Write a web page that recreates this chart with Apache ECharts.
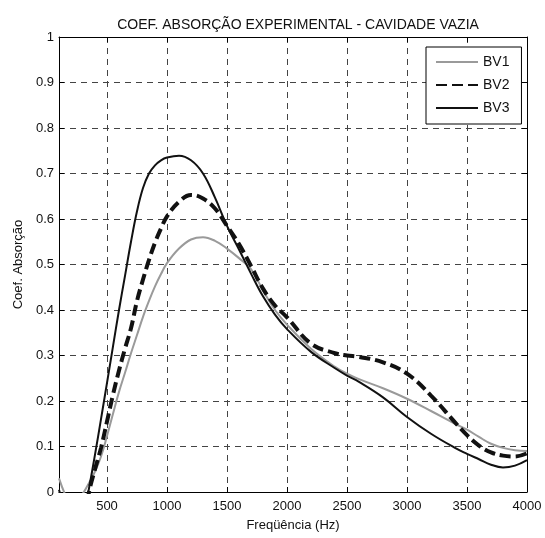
<!DOCTYPE html>
<html><head><meta charset="utf-8">
<script src="https://cdn.jsdelivr.net/npm/echarts@6/dist/echarts.min.js"></script>
<style>html,body{margin:0;padding:0;background:#fff}#c{width:545px;height:538px}</style>
</head><body><div id="c"></div>
<script>
const titleText = 'COEF. ABSORÇÃO EXPERIMENTAL - CAVIDADE VAZIA';
const xName = 'Freqüência (Hz)';
const yName = 'Coef. Absorção';
const seriesNames = ['BV1', 'BV2', 'BV3'];
const freqs = [100,150,200,250,300,350,400,450,500,550,600,650,700,750,800,850,900,950,1000,1100,1200,1300,1400,1500,1600,1700,1800,1900,2000,2200,2400,2500,2600,2800,3000,3200,3400,3500,3600,3700,3800,3900,4000];
const bv1 = [0.03,-0.005,-0.03,-0.02,-0.003,0.02,0.045,0.078,0.123,0.172,0.22,0.262,0.305,0.345,0.385,0.42,0.452,0.479,0.503,0.535,0.555,0.56,0.552,0.535,0.514,0.49,0.443,0.4,0.368,0.315,0.275,0.26,0.248,0.228,0.205,0.178,0.15,0.137,0.121,0.106,0.097,0.092,0.09];
const bv2 = [-0.03,-0.08,-0.12,-0.12,-0.07,0.0,0.05,0.097,0.155,0.214,0.267,0.315,0.36,0.42,0.467,0.51,0.548,0.579,0.606,0.638,0.653,0.645,0.623,0.585,0.545,0.497,0.447,0.41,0.384,0.326,0.305,0.30,0.297,0.285,0.26,0.212,0.153,0.125,0.102,0.087,0.08,0.078,0.085];
const bv3 = [0.005,-0.04,-0.08,-0.09,-0.06,0.008,0.082,0.16,0.24,0.32,0.40,0.475,0.55,0.617,0.668,0.7,0.718,0.729,0.735,0.739,0.729,0.70,0.647,0.585,0.533,0.48,0.43,0.39,0.358,0.308,0.272,0.256,0.242,0.208,0.165,0.128,0.097,0.084,0.072,0.06,0.054,0.058,0.07];

const pair = v => freqs.map((f, i) => [f, v[i]]);
const font = 'Liberation Sans, Arial, sans-serif';
const chart = echarts.init(document.getElementById('c'), null, {renderer: 'canvas'});
const splitStyle = {show: true, lineStyle: {color: '#444', width: 1, type: [6, 5]}};
chart.setOption({
  animation: false,
  backgroundColor: '#fff',
  title: {text: titleText, left: 293, textAlign: 'center', top: 13,
    textStyle: {fontFamily: font, fontSize: 14, fontWeight: 'normal', color: '#111'}},
  grid: {left: 59, right: 18, top: 37, bottom: 46, show: false},
  legend: {
    data: seriesNames, orient: 'vertical', left: 426, top: 47,
    padding: [8, 12, 9, 9], itemGap: 9, itemWidth: 42, itemHeight: 14,
    borderColor: '#000', borderWidth: 1, backgroundColor: '#fff',
    itemStyle: {opacity: 0, borderWidth: 0},
    textStyle: {fontFamily: font, fontSize: 14, color: '#111'}
  },
  xAxis: [{
    type: 'value', min: 100, max: 4000, splitNumber: 8,
    name: xName, nameLocation: 'middle', nameGap: 27,
    nameTextStyle: {fontFamily: font, fontSize: 13, color: '#111'},
    axisLine: {show: true, onZero: false, lineStyle: {color: '#000', width: 1}},
    axisTick: {show: true, inside: true, length: 5, lineStyle: {color: '#000'}},
    axisLabel: {showMinLabel: false, margin: 8, fontFamily: font, fontSize: 13, color: '#111',
      formatter: v => String(v)},
    splitLine: splitStyle
  }, {
    type: 'value', min: 100, max: 4000, splitNumber: 8, position: 'top',
    axisLine: {show: true, onZero: false, lineStyle: {color: '#000', width: 1}},
    axisTick: {show: true, inside: true, length: 5, lineStyle: {color: '#000'}},
    axisLabel: {show: false}, splitLine: {show: false}
  }],
  yAxis: [{
    type: 'value', min: 0, max: 1, interval: 0.1,
    name: yName, nameLocation: 'middle', nameGap: 31,
    nameTextStyle: {fontFamily: font, fontSize: 13, color: '#111'},
    axisLine: {show: true, onZero: false, lineStyle: {color: '#000', width: 1}},
    axisTick: {show: true, inside: true, length: 5, lineStyle: {color: '#000'}},
    axisLabel: {margin: 5, fontFamily: font, fontSize: 13, color: '#111',
      formatter: v => String(Math.round(v * 10) / 10)},
    splitLine: splitStyle
  }, {
    type: 'value', min: 0, max: 1, interval: 0.1, position: 'right',
    axisLine: {show: true, onZero: false, lineStyle: {color: '#000', width: 1}},
    axisTick: {show: true, inside: true, length: 5, lineStyle: {color: '#000'}},
    axisLabel: {show: false}, splitLine: {show: false}
  }],
  series: [
    {name: 'BV1', type: 'line', data: pair(bv1), smooth: 0.4, symbol: 'none', clip: true,
      lineStyle: {color: '#9a9a9a', width: 2}, itemStyle: {color: '#9a9a9a'}},
    {name: 'BV2', type: 'line', data: pair(bv2), smooth: 0.4, symbol: 'none', clip: true,
      lineStyle: {color: '#111', width: 4, type: [11, 5]}, itemStyle: {color: '#111'}},
    {name: 'BV3', type: 'line', data: pair(bv3), smooth: 0.4, symbol: 'none', clip: true,
      lineStyle: {color: '#111', width: 2}, itemStyle: {color: '#111'}}
  ]
});
</script></body></html>
